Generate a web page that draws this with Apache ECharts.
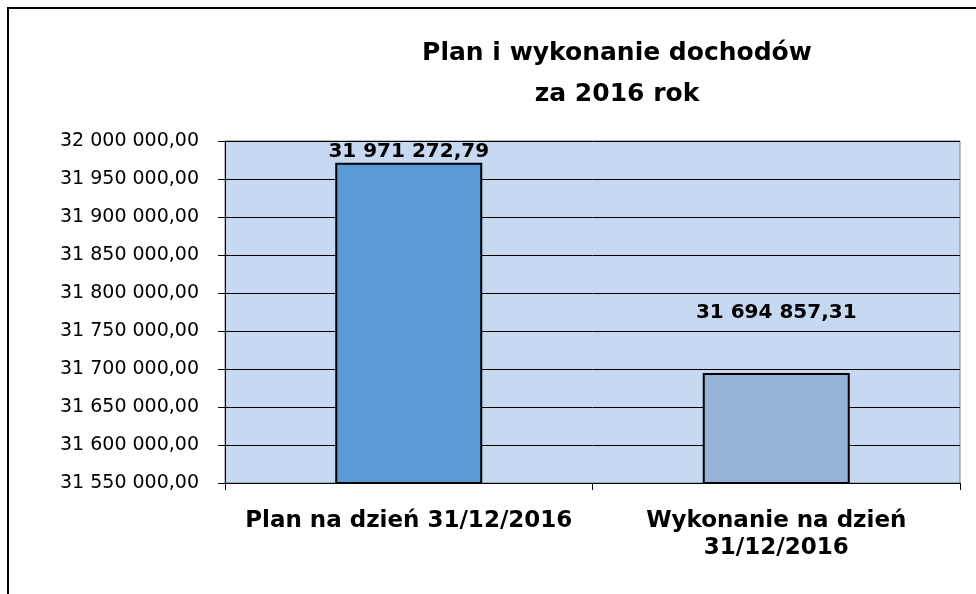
<!DOCTYPE html>
<html>
<head>
<meta charset="utf-8">
<script src="https://cdn.jsdelivr.net/npm/echarts@6/dist/echarts.min.js"></script>
<style>
	html, body { margin: 0; padding: 0; background: #fff; }
	#chart { width: 976px; height: 594px; }
</style>
</head>
<body>
<div id="chart"></div>
<script>
// dane
const categories = ['Plan na dzień 31/12/2016', 'Wykonanie na dzień\n31/12/2016']
const values = [31971272.79, 31694857.31]
const titleLines = ['Plan i wykonanie dochodów', 'za 2016 rok']
const yMin = 31550000
const yMax = 32000000
const yStep = 50000

const barColors = ['#5B9BD5', '#95B3D7']
// odstęp etykiety od słupka (jak w oryginale z Excela)
const labelGap = [1, 50]

// 32 000 000,00
const fmt = (v) => {
	const [i, d] = v.toFixed(2).split('.')
	return i.replace(/\B(?=(\d{3})+(?!\d))/g, ' ') + ',' + d
}

const chart = echarts.init(document.getElementById('chart'))

const option = {
	animation: false,
	textStyle: { fontFamily: 'DejaVu Sans' },
	title: {
		text: titleLines.join('\n'),
		left: 612,
		top: 28,
		textAlign: 'center',
		textStyle: {
			fontFamily: 'DejaVu Sans',
			fontSize: 25,
			fontWeight: 'bold',
			color: '#000',
			lineHeight: 41
		}
	},
	graphic: [
		{
			type: 'rect',
			shape: { x: 8, y: 8, width: 1000, height: 1000 },
			style: { fill: 'none', stroke: '#000', lineWidth: 2 },
			silent: true
		}
	],
	grid: {
		left: 225,
		top: 141,
		right: 16,
		bottom: 111,
		show: true,
		backgroundColor: '#C6D9F1',
		borderColor: '#808080',
		borderWidth: 1
	},
	xAxis: {
		type: 'category',
		data: categories,
		axisLine: { lineStyle: { color: '#000', width: 1 } },
		axisTick: { show: true, length: 7, lineStyle: { color: '#000' } },
		axisLabel: {
			interval: 0,
			margin: 25,
			color: '#000',
			fontFamily: 'DejaVu Sans',
			fontSize: 23,
			fontWeight: 'bold',
			lineHeight: 27
		}
	},
	yAxis: {
		type: 'value',
		min: yMin,
		max: yMax,
		interval: yStep,
		axisLine: { show: true, lineStyle: { color: '#000', width: 1 } },
		axisTick: { show: true, length: 7, lineStyle: { color: '#000' } },
		splitLine: { show: true, lineStyle: { color: '#000', width: 1 } },
		axisLabel: {
			formatter: fmt,
			margin: 26,
			color: '#000',
			fontFamily: 'DejaVu Sans',
			fontSize: 19
		}
	},
	series: [
		{
			type: 'bar',
			barWidth: '40%',
			data: values.map((v, i) => ({
				value: v,
				itemStyle: { color: barColors[i], borderColor: '#000', borderWidth: 2 },
				label: { distance: labelGap[i] }
			})),
			label: {
				show: true,
				position: 'top',
				formatter: (p) => fmt(p.value),
				color: '#000',
				fontFamily: 'DejaVu Sans',
				fontSize: 20,
				fontWeight: 'bold'
			}
		}
	]
}

chart.setOption(option)
</script>
</body>
</html>
